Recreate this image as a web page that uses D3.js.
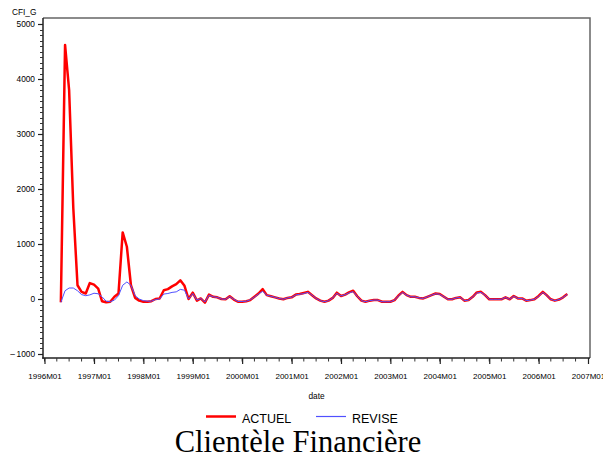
<!DOCTYPE html>
<html>
<head>
<meta charset="utf-8">
<script src="https://cdn.jsdelivr.net/npm/d3@7/dist/d3.min.js"></script>
<style>
  html, body { margin: 0; padding: 0; background: #fff; }
  svg { display: block; }
  text { fill: #000; }
</style>
</head>
<body>
<svg id="chart" width="603" height="461"></svg>
<script>
// ---------- data ----------
const startMonth = "1996M05";            // first observation
const xTickLabels = ["1996M01","1997M01","1998M01","1999M01","2000M01","2001M01",
                     "2002M01","2003M01","2004M01","2005M01","2006M01","2007M01"];
const yTickValues = [-1000, 0, 1000, 2000, 3000, 4000, 5000];

// ACTUEL (monthly, 1996M05 .. 2006M08)
const actuel = [
  -60, 4620, 3800, 1650, 250, 130, 100, 290, 260, 190, -40, -60, -50, 40, 100, 1210, 950, 250, 20,
  -30, -50, -50, -40, 0, 10, 160, 180, 230, 270, 340, 240, 0, 115, -30, 10, -65, 80, 40, 30, 0,
  -5, 50, -10, -50, -50, -40, -20, 40, 100, 180, 70, 50, 30, 10, -5, 20, 30, 80, 90, 110, 130,
  70, 10, -30, -50, -30, 20, 115, 55, 80, 120, 150, 50, -30, -50, -30, -20, -20, -50, -50, -50,
  -20, 60, 130, 70, 40, 40, 20, 10, 40, 70, 100, 90, 40, -5, -5, 20, 30, -30, -20, 40, 120, 130,
  70, -5, -5, -5, -5, 30, -5, 55, 10, 10, -30, -20, -5, 55, 130, 70, -5, -30, -10, 30, 90
];
// REVISE (monthly, 1996M05 .. 2006M08)
const revise = [
  -60, 150, 200, 200, 150, 80, 60, 75, 105, 95, 40, -40, -50, -20, 60, 250, 310, 250, 60,
  0, -30, -40, -40, -10, 0, 90, 100, 120, 130, 175, 160, 0, 100, -20, 10, -55, 70, 40, 30, 0,
  -5, 45, -5, -45, -45, -40, -15, 35, 90, 140, 70, 50, 30, 10, -5, 20, 30, 75, 85, 100, 120,
  70, 10, -30, -50, -30, 20, 105, 55, 80, 110, 135, 50, -30, -50, -30, -20, -20, -50, -50, -50,
  -20, 55, 120, 70, 40, 40, 20, 10, 40, 70, 95, 85, 40, -5, -5, 20, 30, -30, -20, 40, 110, 120,
  70, -5, -5, -5, -5, 30, -5, 50, 10, 10, -30, -20, -5, 50, 120, 70, -5, -30, -10, 30, 85
];
const seriesNames = ["ACTUEL", "REVISE"];
const seriesColors = ["#ff0000", "#5050ff"];
const yLabel = "CFI_G";
const xLabel = "date";
const title = "Clientèle Financière";

// ---------- helpers ----------
const SANS = "'Liberation Sans', Arial, Helvetica, sans-serif";
const SERIF = "'Liberation Serif', 'Times New Roman', serif";
const parseM = s => new Date(Date.UTC(+s.slice(0, 4), +s.slice(5) - 1, 1));
const start = parseM(startMonth);
const dates = actuel.map((_, i) => new Date(Date.UTC(start.getUTCFullYear(), start.getUTCMonth() + i, 1)));

// ---------- layout ----------
const svg = d3.select("#chart");
const frame = { left: 43, right: 590, top: 18, bottom: 358 };

const x = d3.scaleUtc()
  .domain([parseM(xTickLabels[0]), parseM(xTickLabels[xTickLabels.length - 1])])
  .range([44.5, 588]);
const y = d3.scaleLinear().domain([-1000, 5000]).range([354, 24]);

// frame box (top & right)
svg.append("path")
  .attr("d", `M${frame.left},${frame.top}H${frame.right}V${frame.bottom}`)
  .attr("fill", "none").attr("stroke", "#666").attr("stroke-width", 1.5);

// y axis
const yMinor = d3.range(-1000, 5001, 100).filter(v => v % 1000 !== 0);
const gy = svg.append("g").attr("transform", `translate(${frame.left},0)`);
gy.append("line").attr("y1", frame.top).attr("y2", frame.bottom + 0.75)
  .attr("stroke", "#222").attr("stroke-width", 1.5);
gy.selectAll("line.minor").data(yMinor).join("line").attr("class", "minor")
  .attr("x1", -3).attr("x2", 0).attr("y1", d => Math.round(y(d)) + 0.5).attr("y2", d => Math.round(y(d)) + 0.5)
  .attr("stroke", "#333").attr("stroke-width", 1);
gy.call(d3.axisLeft(y).tickValues(yTickValues).tickSize(5).tickPadding(3)
    .tickFormat(d => d < 0 ? "–\u2009" + Math.abs(d) : String(d)))
  .call(g => g.select(".domain").remove())
  .call(g => g.selectAll(".tick line").attr("stroke", "#222").attr("stroke-width", 1.2))
  .call(g => g.selectAll(".tick text").style("font-size", "8.3px").style("font-family", SANS).attr("fill", "#000"));

// x axis
const xMinor = d3.utcMonth.every(3).range(x.domain()[0], x.domain()[1]);
const gx = svg.append("g").attr("transform", `translate(0,${frame.bottom})`);
gx.append("line").attr("x1", frame.left - 0.75).attr("x2", frame.right)
  .attr("stroke", "#222").attr("stroke-width", 1.5);
gx.selectAll("line.minor").data(xMinor).join("line").attr("class", "minor")
  .attr("x1", d => x(d)).attr("x2", d => x(d)).attr("y1", 0).attr("y2", 3.5)
  .attr("stroke", "#333").attr("stroke-width", 1);
gx.call(d3.axisBottom(x).tickValues(xTickLabels.map(parseM)).tickSize(6).tickPadding(9)
    .tickFormat((d, i) => xTickLabels[i]))
  .call(g => g.select(".domain").remove())
  .call(g => g.selectAll(".tick line").attr("stroke", "#222").attr("stroke-width", 1.2))
  .call(g => g.selectAll(".tick text").style("font-size", "8px").style("font-family", SANS).attr("fill", "#000"));

// axis labels
svg.append("text").attr("x", 12).attr("y", 15).style("font-size", "8.3px").style("font-family", SANS).text(yLabel);
svg.append("text").attr("x", (frame.left + frame.right) / 2).attr("y", 399)
  .attr("text-anchor", "middle").style("font-size", "8.3px").style("font-family", SANS).text(xLabel);

// lines
const line = d3.line().x((d, i) => x(dates[i])).y(d => y(d));
const plot = svg.append("g");
plot.append("path").datum(actuel).attr("d", line)
  .attr("fill", "none").attr("stroke", seriesColors[0]).attr("stroke-width", 2.5)
  .attr("stroke-linejoin", "round");
plot.append("path").datum(revise).attr("d", line)
  .attr("fill", "none").attr("stroke", seriesColors[1]).attr("stroke-width", 1)
  .attr("stroke-linejoin", "round");

// legend
const legendItems = [
  { name: seriesNames[0], color: seriesColors[0], w: 2.5, x0: 206 },
  { name: seriesNames[1], color: seriesColors[1], w: 1.2, x0: 316 }
];
const lg = svg.append("g");
legendItems.forEach(it => {
  lg.append("line").attr("x1", it.x0).attr("x2", it.x0 + 30).attr("y1", 416.5).attr("y2", 416.5)
    .attr("stroke", it.color).attr("stroke-width", it.w);
  lg.append("text").attr("x", it.x0 + 36).attr("y", 423)
    .style("font-size", "12.5px").style("font-family", SANS).text(it.name);
});

// title
svg.append("text").attr("x", 298).attr("y", 452).attr("text-anchor", "middle")
  .style("font-family", SERIF).style("font-size", "30.5px").text(title);
</script>
</body>
</html>
